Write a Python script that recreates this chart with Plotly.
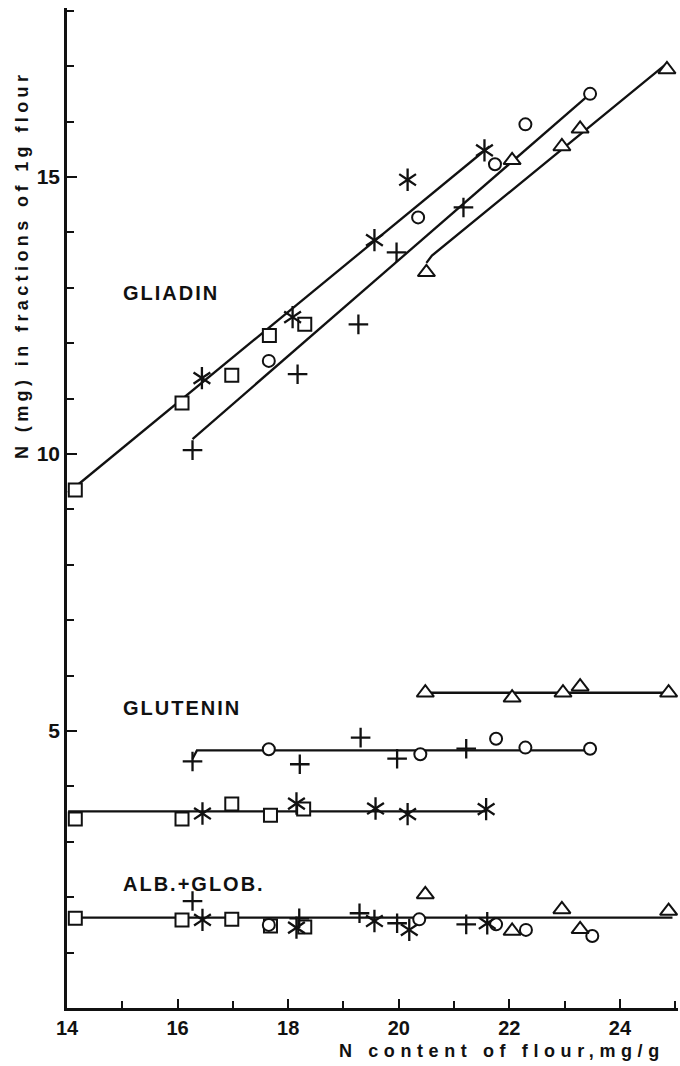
import plotly.graph_objects as go

# ---------------- data ----------------
# GLIADIN
gli_sq_x = [14.15, 16.08, 16.98, 17.66, 18.30]
gli_sq_y = [9.35, 10.92, 11.42, 12.14, 12.34]
gli_st_x = [16.44, 18.08, 19.56, 20.16, 21.55]
gli_st_y = [11.37, 12.47, 13.86, 14.95, 15.48]
gli_pl_x = [16.27, 18.17, 19.27, 19.96, 21.17]
gli_pl_y = [10.07, 11.44, 12.34, 13.64, 14.45]
gli_ci_x = [17.65, 20.35, 21.74, 22.29, 23.46]
gli_ci_y = [11.68, 14.27, 15.23, 15.95, 16.50]
gli_tr_x = [20.50, 22.05, 22.95, 23.28, 24.85]
gli_tr_y = [13.28, 15.30, 15.55, 15.87, 16.94]
# fitted lines (end points)
gli_fit1_x = [14.02, 21.64]
gli_fit1_y = [9.30, 15.55]
gli_fit2_x = [16.27, 23.46]
gli_fit2_y = [10.27, 16.50]
gli_fit3_x = [20.50, 20.60, 24.85]
gli_fit3_y = [13.45, 13.58, 17.05]

# GLUTENIN
glu_sq_x = [14.15, 16.08, 16.98, 17.68, 18.28]
glu_sq_y = [3.41, 3.41, 3.68, 3.48, 3.59]
glu_st_x = [16.45, 18.15, 19.58, 20.16, 21.58]
glu_st_y = [3.51, 3.69, 3.60, 3.50, 3.59]
glu_pl_x = [16.27, 18.21, 19.31, 19.97, 21.22]
glu_pl_y = [4.45, 4.40, 4.88, 4.50, 4.68]
glu_ci_x = [17.65, 20.39, 21.76, 22.29, 23.46]
glu_ci_y = [4.67, 4.58, 4.86, 4.70, 4.68]
glu_tr_x = [20.48, 22.05, 22.97, 23.28, 24.88]
glu_tr_y = [5.69, 5.60, 5.69, 5.80, 5.69]
glu_fit1_x = [14.02, 21.60]
glu_fit1_y = [3.55, 3.55]
glu_fit2_x = [16.27, 16.35, 23.46]
glu_fit2_y = [4.50, 4.65, 4.65]
glu_fit3_x = [20.48, 24.88]
glu_fit3_y = [5.69, 5.69]

# ALB. + GLOB.
alb_sq_x = [14.15, 16.08, 16.98, 17.68, 18.30]
alb_sq_y = [1.62, 1.59, 1.60, 1.48, 1.46]
alb_st_x = [16.45, 18.15, 19.56, 20.19, 21.60]
alb_st_y = [1.59, 1.45, 1.57, 1.41, 1.53]
alb_pl_x = [16.27, 18.20, 19.29, 19.97, 21.22]
alb_pl_y = [1.93, 1.62, 1.71, 1.53, 1.51]
alb_ci_x = [17.65, 20.37, 21.76, 22.30, 23.50]
alb_ci_y = [1.50, 1.60, 1.51, 1.41, 1.30]
alb_tr_x = [20.48, 22.05, 22.95, 23.28, 24.88]
alb_tr_y = [2.05, 1.39, 1.78, 1.42, 1.75]
alb_fit_x = [14.02, 24.95]
alb_fit_y = [1.63, 1.63]

x_ticks = [14, 16, 18, 20, 22, 24]
y_ticks = [5, 10, 15]

group_labels = ["GLIADIN", "GLUTENIN", "ALB.+GLOB."]
label_pos_x = [14.98, 14.98, 14.98]
label_pos_y = [12.9, 5.42, 2.23]

# ---------------- figure ----------------
BLACK = "#111111"
fig = go.Figure()

def line(xs, ys):
    fig.add_trace(go.Scatter(x=xs, y=ys, mode="lines",
                             line=dict(color=BLACK, width=2.3),
                             showlegend=False, hoverinfo="skip"))

def pts(xs, ys, symbol, size, lw=2.0):
    fill = BLACK if symbol.endswith("-open") else "white"
    fig.add_trace(go.Scatter(x=xs, y=ys, mode="markers",
                             marker=dict(symbol=symbol, size=size, color=fill,
                                         line=dict(color=BLACK, width=lw)),
                             showlegend=False))

for fx, fy in [(gli_fit1_x, gli_fit1_y), (gli_fit2_x, gli_fit2_y), (gli_fit3_x, gli_fit3_y),
               (glu_fit1_x, glu_fit1_y), (glu_fit2_x, glu_fit2_y), (glu_fit3_x, glu_fit3_y),
               (alb_fit_x, alb_fit_y)]:
    line(fx, fy)

for (sx, sy, cx, cy, tx, ty, px, py, stx, sty) in [
    (gli_sq_x, gli_sq_y, gli_ci_x, gli_ci_y, gli_tr_x, gli_tr_y, gli_pl_x, gli_pl_y, gli_st_x, gli_st_y),
    (glu_sq_x, glu_sq_y, glu_ci_x, glu_ci_y, glu_tr_x, glu_tr_y, glu_pl_x, glu_pl_y, glu_st_x, glu_st_y),
    (alb_sq_x, alb_sq_y, alb_ci_x, alb_ci_y, alb_tr_x, alb_tr_y, alb_pl_x, alb_pl_y, alb_st_x, alb_st_y),
]:
    pts(sx, sy, "square", 13)
    pts(cx, cy, "circle", 12)
    pts(tx, ty, "triangle-up", 15)
    pts(px, py, "cross-thin-open", 14, 2.3)
    pts(stx, sty, "y-up-open", 14, 2.3)
    pts(stx, sty, "y-down-open", 14, 2.3)

FONT = "Liberation Sans, Arial, sans-serif"

for txt, lx, ly in zip(group_labels, label_pos_x, label_pos_y):
    fig.add_annotation(x=lx, y=ly, xref="x", yref="y", xanchor="left", yanchor="middle",
                       text='<span style="letter-spacing:2px">%s</span>' % txt,
                       showarrow=False, font=dict(family=FONT, size=20, color=BLACK, weight="bold"))

fig.add_annotation(xref="paper", yref="paper", x=(502 - 67) / 611, y=(1008 - 1051) / 1000,
                   xanchor="center", yanchor="middle", showarrow=False,
                   text='<span style="letter-spacing:5.6px">N content of flour,mg/g</span>',
                   font=dict(family=FONT, size=18, color=BLACK, weight="bold"))
fig.add_annotation(xref="paper", yref="paper", x=(22 - 67) / 611, y=(1008 - 265) / 1000,
                   xanchor="center", yanchor="middle", showarrow=False, textangle=-90,
                   text='<span style="letter-spacing:4.4px">N (mg) in fractions of 1g flour</span>',
                   font=dict(family=FONT, size=18, color=BLACK, weight="bold"))

fig.update_layout(
    width=680, height=1066,
    margin=dict(l=67, r=2, t=8, b=58),
    paper_bgcolor="white", plot_bgcolor="white",
    font=dict(family=FONT, color=BLACK),
    showlegend=False,
)
fig.update_xaxes(range=[14, 25.05], showgrid=False, zeroline=False,
                 showline=True, linecolor=BLACK, linewidth=2.5,
                 ticks="inside", ticklen=9, tickwidth=2.2, tickcolor=BLACK,
                 tickvals=x_ticks, ticktext=[str(v) for v in x_ticks],
                 tickfont=dict(size=20, family=FONT, color=BLACK, weight="bold"),
                 minor=dict(dtick=1, tick0=14, ticks="inside", ticklen=7, tickwidth=2, tickcolor=BLACK))
fig.update_yaxes(range=[0, 18.05], showgrid=False, zeroline=False,
                 showline=True, linecolor=BLACK, linewidth=2.5,
                 ticks="inside", ticklen=10, tickwidth=2.2, tickcolor=BLACK,
                 tickvals=y_ticks, ticktext=[str(v) for v in y_ticks],
                 tickfont=dict(size=21, family=FONT, color=BLACK, weight="bold"),
                 minor=dict(dtick=1, tick0=0, ticks="inside", ticklen=7, tickwidth=2, tickcolor=BLACK))

fig.write_html("out.html", config={"displayModeBar": False},
               post_script="document.body.style.margin='0';")
